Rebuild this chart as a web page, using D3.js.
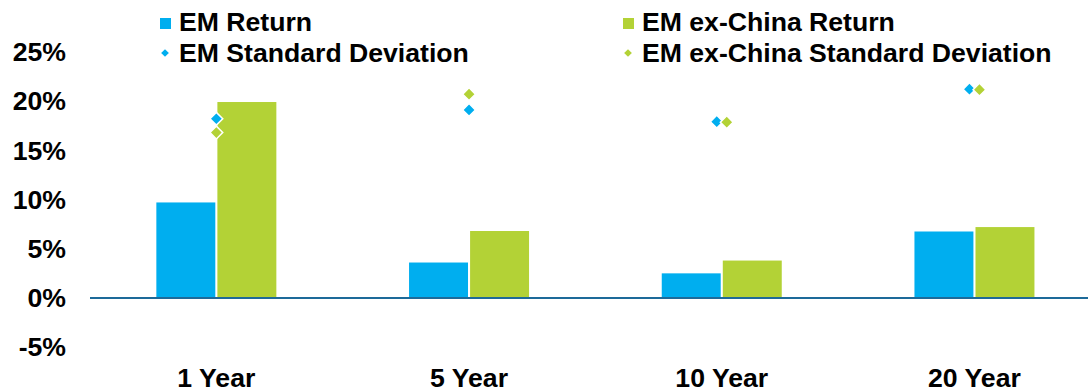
<!DOCTYPE html>
<html>
<head>
<meta charset="utf-8">
<script src="https://cdn.jsdelivr.net/npm/d3@7"></script>
<style>
  html, body { margin: 0; padding: 0; background: #fff; }
  svg { display: block; font-family: "Liberation Sans", Arial, sans-serif; font-weight: bold; }
</style>
</head>
<body>
<svg id="chart" width="1088" height="392"></svg>
<script>
// Horizons and the four series (percent)
const periods = ["1 Year", "5 Year", "10 Year", "20 Year"];
const emReturn = [9.7, 3.6, 2.5, 6.75];
const exChinaReturn = [19.9, 6.8, 3.8, 7.2];
const emStdDev = [18.2, 19.1, 17.9, 21.2];
const exChinaStdDev = [16.8, 20.7, 17.85, 21.15];
const yTicks = [-5, 0, 5, 10, 15, 20, 25];

const blue = "#00AEEF";
const green = "#B3D236";
const axisColor = "#1D6A99";
const fontSize = 25;
const textStretch = "scale(1.065,1)"; // slightly wide lettering

const svg = d3.select("#chart");

const x = d3.scaleBand().domain(periods).range([90, 1100.8]).paddingInner(0).paddingOuter(0);
const inner = d3.scaleBand().domain(["em", "exc"]).range([-60, 60]).paddingInner(0.034);
const y = d3.scaleLinear().domain([-5, 25]).range([347.2, 51.8]);

// Y axis labels (no axis line, no ticks)
const yAxis = d3.axisLeft(y).tickValues(yTicks).tickSize(0).tickPadding(0)
  .tickFormat(d => d + "%");
const gy = svg.append("g").attr("transform", "translate(66,0)").call(yAxis);
gy.select(".domain").remove();
gy.selectAll("text")
  .attr("font-size", fontSize).attr("font-weight", "bold")
  .attr("font-family", "'Liberation Sans', Arial, sans-serif")
  .attr("fill", "#000").attr("x", 0).attr("dy", "0.35em")
  .attr("transform", textStretch);

// Bars
const rows = periods.map((p, i) => ({ p, em: emReturn[i], exc: exChinaReturn[i], sdEm: emStdDev[i], sdExc: exChinaStdDev[i] }));

const groups = svg.append("g").selectAll("g").data(rows).join("g")
  .attr("transform", d => `translate(${x(d.p) + x.bandwidth() / 2},0)`);

groups.append("rect")
  .attr("x", inner("em")).attr("width", inner.bandwidth())
  .attr("y", d => y(Math.max(0, d.em))).attr("height", d => Math.abs(y(d.em) - y(0)))
  .attr("fill", blue);
groups.append("rect")
  .attr("x", inner("exc")).attr("width", inner.bandwidth())
  .attr("y", d => y(Math.max(0, d.exc))).attr("height", d => Math.abs(y(d.exc) - y(0)))
  .attr("fill", green);

// Zero line
svg.append("line")
  .attr("x1", 90).attr("x2", 1088).attr("y1", y(0)).attr("y2", y(0))
  .attr("stroke", axisColor).attr("stroke-width", 2);

// Standard deviation diamonds; nearly coincident pairs are nudged apart
const diamond = d3.symbol().type(d3.symbolSquare).size(82);
groups.each(function (d) {
  const g = d3.select(this);
  const close = Math.abs(d.sdEm - d.sdExc) < 0.5;
  const pts = [
    { v: d.sdEm, c: blue, dx: close ? -5 : 0 },
    { v: d.sdExc, c: green, dx: close ? 5 : 0 }
  ];
  g.selectAll("path.sd").data(pts).join("path")
    .attr("class", "sd")
    .attr("d", diamond)
    .attr("transform", p => `translate(${p.dx},${y(p.v)}) rotate(45)`)
    .attr("fill", p => p.c)
    .attr("stroke", "#fff").attr("stroke-width", 1.5);
});

// Category labels
const xAxis = d3.axisBottom(x).tickSize(0).tickPadding(0);
const gx = svg.append("g").attr("transform", "translate(0,387)").call(xAxis);
gx.select(".domain").remove();
gx.selectAll("text")
  .attr("font-size", fontSize).attr("font-weight", "bold")
  .attr("font-family", "'Liberation Sans', Arial, sans-serif")
  .attr("fill", "#000").attr("dy", 0).attr("y", 0)
  .attr("transform", textStretch);

// Legend
const legendItems = [
  { label: "EM Return", color: blue, shape: "square", x: 160, y: 31 },
  { label: "EM ex-China Return", color: green, shape: "square", x: 623, y: 31 },
  { label: "EM Standard Deviation", color: blue, shape: "diamond", x: 160, y: 62 },
  { label: "EM ex-China Standard Deviation", color: green, shape: "diamond", x: 623, y: 62 }
];
const lg = svg.append("g").selectAll("g").data(legendItems).join("g")
  .attr("transform", d => `translate(${d.x},${d.y})`);
lg.filter(d => d.shape === "square").append("rect")
  .attr("x", 0).attr("y", -13).attr("width", 11).attr("height", 11).attr("fill", d => d.color);
lg.filter(d => d.shape === "diamond").append("path")
  .attr("d", d3.symbol().type(d3.symbolSquare).size(30))
  .attr("transform", "translate(5,-9) rotate(45)")
  .attr("fill", d => d.color);
lg.append("text")
  .attr("x", 0).attr("y", 0)
  .attr("transform", "translate(19,0) " + textStretch)
  .attr("font-size", fontSize).attr("fill", "#000")
  .text(d => d.label);
</script>
</body>
</html>
